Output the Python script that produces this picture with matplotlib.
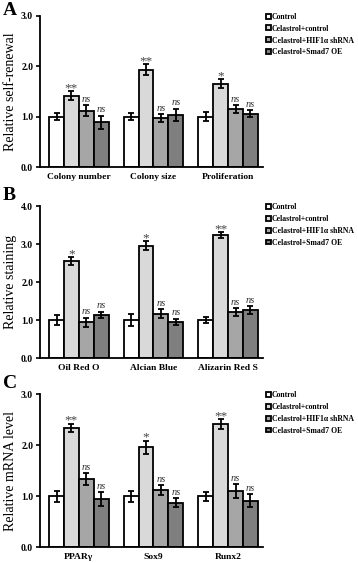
import numpy as np
import matplotlib
matplotlib.use("Agg")
import matplotlib.pyplot as plt

plt.rcParams['font.family'] = ['Liberation Serif', 'DejaVu Serif']
plt.rcParams['font.weight'] = 'bold'

series_names = ["Control", "Celastrol+control", "Celastrol+HIF1\u03b1 shRNA", "Celastrol+Smad7 OE"]
colors = ["#ffffff", "#d9d9d9", "#a6a6a6", "#7f7f7f"]

# panel A
a_cats = ["Colony number", "Colony size", "Proliferation"]
a_vals = [[1.0, 1.0, 1.0], [1.42, 1.93, 1.65], [1.12, 0.97, 1.15], [0.89, 1.04, 1.06]]
a_errs = [[0.07, 0.07, 0.09], [0.08, 0.11, 0.09], [0.11, 0.08, 0.08], [0.13, 0.12, 0.07]]
a_sig = [["**", "**", "*"], ["ns", "ns", "ns"], ["ns", "ns", "ns"]]

# panel B
b_cats = ["Oil Red O", "Alcian Blue", "Alizarin Red S"]
b_vals = [[1.0, 1.0, 1.0], [2.55, 2.96, 3.24], [0.94, 1.17, 1.21], [1.14, 0.95, 1.26]]
b_errs = [[0.13, 0.16, 0.08], [0.10, 0.11, 0.07], [0.12, 0.12, 0.10], [0.08, 0.08, 0.10]]
b_sig = [["*", "*", "**"], ["ns", "ns", "ns"], ["ns", "ns", "ns"]]

# panel C
c_cats = ["PPAR\u03b3", "Sox9", "Runx2"]
c_vals = [[1.0, 1.0, 1.0], [2.34, 1.96, 2.41], [1.33, 1.12, 1.10], [0.94, 0.87, 0.91]]
c_errs = [[0.11, 0.11, 0.09], [0.08, 0.13, 0.10], [0.12, 0.09, 0.13], [0.14, 0.09, 0.13]]
c_sig = [["**", "*", "**"], ["ns", "ns", "ns"], ["ns", "ns", "ns"]]

panels = [
    ("A", a_cats, a_vals, a_errs, a_sig, "Relative self-renewal", 3.0, [0.703, 0.972], 0.982),
    ("B", b_cats, b_vals, b_errs, b_sig, "Relative staining", 4.0, [0.364, 0.634], 0.652),
    ("C", c_cats, c_vals, c_errs, c_sig, "Relative mRNA level", 3.0, [0.028, 0.300], 0.318),
]

fig = plt.figure(figsize=(3.58, 5.63), dpi=100)
width = 0.2

for letter, cats, vals, errs, sig, ylabel, ymax, (bot, top), ly in panels:
    ax = fig.add_axes([0.112, bot, 0.623, top - bot])
    x = np.arange(len(cats))
    for i in range(4):
        xs = x + (i - 1.5) * width
        ax.bar(xs, vals[i], width, color=colors[i], edgecolor="black", linewidth=1.3,
               label=series_names[i], zorder=2)
        ax.errorbar(xs, vals[i], yerr=errs[i], fmt="none", ecolor="black",
                    elinewidth=1.3, capsize=2, capthick=1.3, zorder=3)
        if i > 0:
            for j in range(len(cats)):
                s = sig[i - 1][j]
                ytxt = vals[i][j] + errs[i][j] + ymax * 0.01
                if s == "ns":
                    ax.text(xs[j], ytxt, s, ha="center", va="bottom", fontsize=7.5,
                            style="italic", weight="normal", color="#333333")
                else:
                    ax.text(xs[j], ytxt - ymax * 0.03, s, ha="center", va="bottom",
                            fontsize=9.5, weight="normal", color="#444444")
    ax.set_xlim(-0.52, 2.47)
    ax.set_ylim(0, ymax)
    ax.set_yticks(np.arange(0, ymax + 0.01, 1.0))
    ax.set_yticklabels(["%.1f" % v for v in np.arange(0, ymax + 0.01, 1.0)], fontsize=7)
    ax.set_xticks(x)
    ax.set_xticklabels(cats, fontsize=6.8)
    ax.tick_params(axis="x", length=0, pad=4)
    ax.tick_params(axis="y", length=3, width=1.2, pad=2)
    ax.set_ylabel(ylabel, fontsize=10, labelpad=3)
    for sp in ["top", "right"]:
        ax.spines[sp].set_visible(False)
    for sp in ["left", "bottom"]:
        ax.spines[sp].set_linewidth(1.3)
    fig.text(0.008, ly, letter, fontsize=14, va="center", ha="left")
    ax.legend(loc="upper left", bbox_to_anchor=(1.0, 1.04), frameon=False, fontsize=5.6,
              handlelength=0.6, handleheight=0.6, handletextpad=0.1, labelspacing=0.5,
              borderaxespad=0.0)

fig.savefig("out.png", dpi=100)
